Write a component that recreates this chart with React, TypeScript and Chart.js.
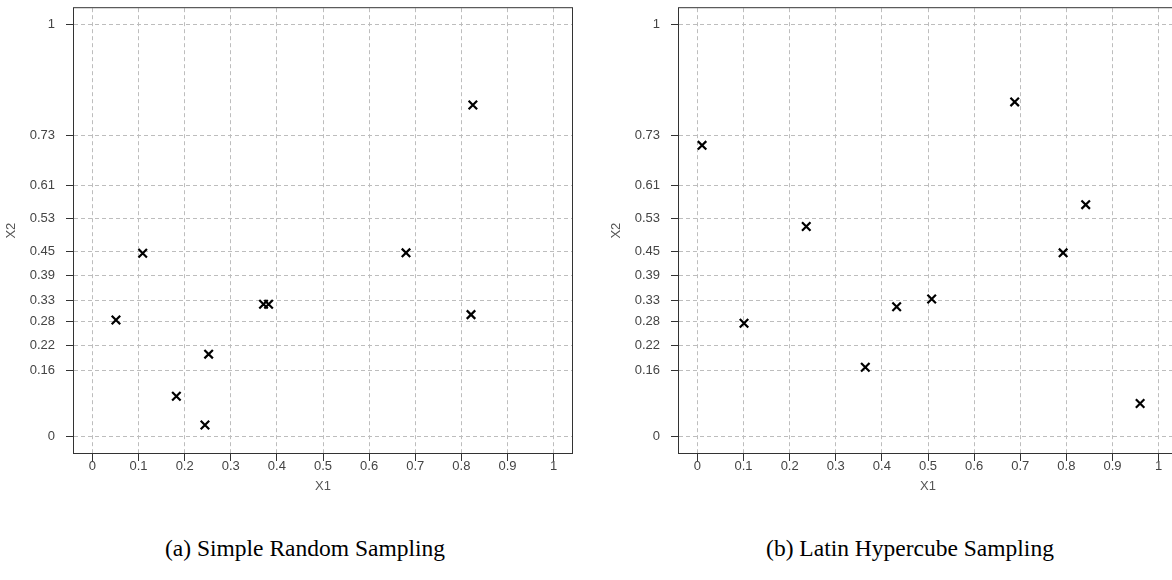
import React, { useEffect, useRef } from 'react';
import { Chart, registerables } from 'chart.js';

Chart.register(...registerables);

const X_TICKS = [0, 0.1, 0.2, 0.3, 0.4, 0.5, 0.6, 0.7, 0.8, 0.9, 1];
const X_TICK_LABELS = ['0', '0.1', '0.2', '0.3', '0.4', '0.5', '0.6', '0.7', '0.8', '0.9', '1'];
const Y_TICKS = [0, 0.16, 0.22, 0.28, 0.33, 0.39, 0.45, 0.53, 0.61, 0.73, 1];
const Y_TICK_LABELS = ['0', '0.16', '0.22', '0.28', '0.33', '0.39', '0.45', '0.53', '0.61', '0.73', '1'];

const SRS_X = [0.051, 0.109, 0.182, 0.244, 0.252, 0.371, 0.382, 0.68, 0.821, 0.825];
const SRS_Y = [0.283, 0.445, 0.098, 0.028, 0.2, 0.321, 0.321, 0.446, 0.296, 0.805];

const LHS_X = [0.01, 0.101, 0.236, 0.364, 0.432, 0.508, 0.688, 0.793, 0.842, 0.96];
const LHS_Y = [0.707, 0.275, 0.51, 0.168, 0.315, 0.334, 0.8125, 0.446, 0.563, 0.08];

const X_TITLE = 'X1';
const Y_TITLE = 'X2';
const CAPTIONS = ['(a) Simple Random Sampling', '(b) Latin Hypercube Sampling'];

const SANS = '"Liberation Sans", Arial, Helvetica, sans-serif';
const SERIF = '"Liberation Serif", "Times New Roman", Times, serif';

const framePlugin = {
  id: 'frame',
  afterDraw(chart: any) {
    const { ctx, chartArea } = chart;
    const { left, top, right, bottom } = chartArea;
    ctx.save();
    ctx.strokeStyle = '#333';
    ctx.lineWidth = 1;
    ctx.strokeRect(left - 0.5, top - 0.5, right - left + 1, bottom - top + 1);
    ctx.restore();
  },
};

function makeConfig(xs: number[], ys: number[]): any {
  return {
    type: 'scatter',
    data: {
      datasets: [
        {
          data: xs.map((x, i) => ({ x, y: ys[i] })),
          pointStyle: 'crossRot',
          pointRadius: 6,
          pointHoverRadius: 6,
          borderColor: '#000',
          backgroundColor: '#000',
          pointBorderWidth: 2.2,
          borderWidth: 2.2,
          showLine: false,
        },
      ],
    },
    options: {
      animation: false,
      responsive: false,
      devicePixelRatio: 1,
      events: [],
      layout: { padding: { top: 7, right: 14, bottom: 0, left: 0 } },
      plugins: {
        legend: { display: false },
        tooltip: { enabled: false },
        title: { display: false },
      },
      scales: {
        x: {
          type: 'linear',
          min: -0.04,
          max: 1.04,
          afterBuildTicks: (s: any) => {
            s.ticks = X_TICKS.map((v) => ({ value: v }));
          },
          afterFit: (s: any) => {
            s.height = 41;
            s.paddingLeft = 0;
            s.paddingRight = 0;
            s.paddingTop = 0;
            s.paddingBottom = 0;
          },
          ticks: {
            autoSkip: false,
            maxRotation: 0,
            minRotation: 0,
            padding: -2,
            color: '#444',
            font: { family: SANS, size: 13 },
            callback: (_v: any, i: number) => X_TICK_LABELS[i],
          },
          grid: {
            color: '#bdbdbd',
            lineWidth: 1,
            tickLength: 8,
            tickColor: '#333',
            tickWidth: 1,
            tickBorderDash: [],
          },
          border: { display: false, dash: [4, 3] },
          title: {
            display: true,
            text: X_TITLE,
            color: '#555',
            font: { family: SANS, size: 13 },
            padding: { top: 0, bottom: 0 },
          },
        },
        y: {
          type: 'linear',
          min: -0.04,
          max: 1.04,
          afterBuildTicks: (s: any) => {
            s.ticks = Y_TICKS.map((v) => ({ value: v }));
          },
          afterFit: (s: any) => {
            s.width = 74;
            s.paddingLeft = 0;
            s.paddingRight = 0;
            s.paddingTop = 0;
            s.paddingBottom = 0;
          },
          ticks: {
            autoSkip: false,
            padding: 11,
            color: '#444',
            font: { family: SANS, size: 13 },
            callback: (_v: any, i: number) => Y_TICK_LABELS[i],
          },
          grid: {
            color: '#bdbdbd',
            lineWidth: 1,
            tickLength: 8,
            tickColor: '#333',
            tickWidth: 1,
            tickBorderDash: [],
          },
          border: { display: false, dash: [4, 3] },
          title: {
            display: true,
            text: Y_TITLE,
            color: '#555',
            font: { family: SANS, size: 13 },
            padding: { top: 4, bottom: 0 },
          },
        },
      },
    },
    plugins: [framePlugin],
  };
}

export default function App() {
  const leftRef = useRef<HTMLCanvasElement | null>(null);
  const rightRef = useRef<HTMLCanvasElement | null>(null);

  useEffect(() => {
    const charts: Chart[] = [];
    if (leftRef.current) charts.push(new Chart(leftRef.current, makeConfig(SRS_X, SRS_Y)));
    if (rightRef.current) charts.push(new Chart(rightRef.current, makeConfig(LHS_X, LHS_Y)));
    return () => charts.forEach((c) => c.destroy());
  }, []);

  const captionStyle = (left: number): React.CSSProperties => ({
    position: 'absolute',
    left,
    top: 534,
    width: 610,
    height: 28,
    lineHeight: '28px',
    textAlign: 'center',
    fontFamily: SERIF,
    fontSize: 23.5,
    color: '#000',
    whiteSpace: 'nowrap',
  });

  return (
    <div
      style={{
        position: 'absolute',
        left: 0,
        top: 0,
        width: 1172,
        height: 580,
        overflow: 'hidden',
        background: '#fff',
      }}
    >
      <div style={{ position: 'absolute', left: 0, top: 0, width: 586, height: 494 }}>
        <canvas ref={leftRef} width={586} height={494} style={{ display: 'block' }} />
      </div>
      <div style={{ position: 'absolute', left: 605, top: 0, width: 586, height: 494 }}>
        <canvas ref={rightRef} width={586} height={494} style={{ display: 'block' }} />
      </div>
      <div style={captionStyle(0)}>{CAPTIONS[0]}</div>
      <div style={captionStyle(605)}>{CAPTIONS[1]}</div>
    </div>
  );
}
